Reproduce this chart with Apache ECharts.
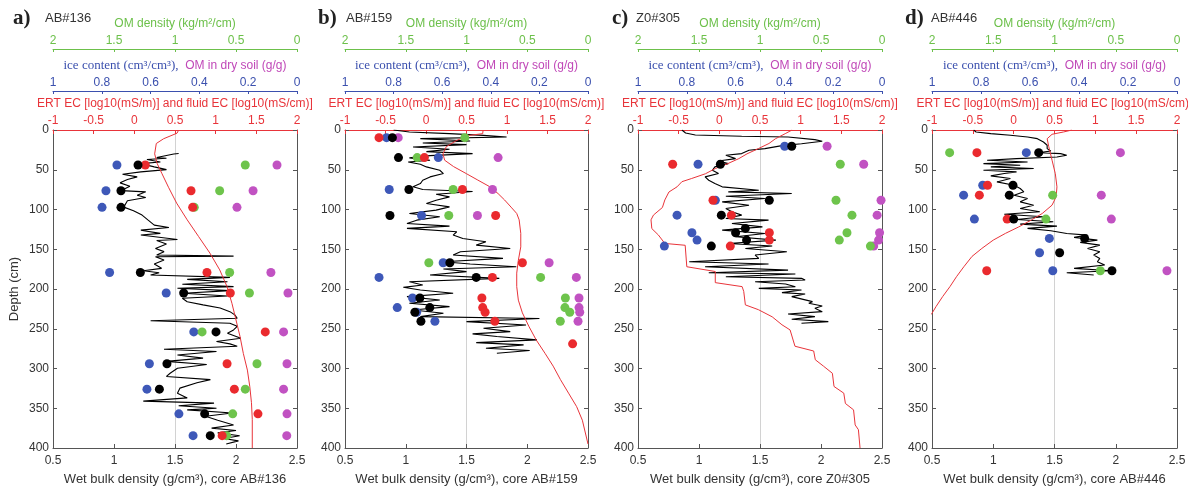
<!DOCTYPE html>
<html><head><meta charset="utf-8">
<script src="https://cdn.jsdelivr.net/npm/echarts@6/dist/echarts.min.js"></script>
<style>html,body{margin:0;padding:0;background:#fff}#c{width:1188px;height:489px}</style>
</head><body><div id="c"></div>
<script>
// ---- axis tick definitions ----
const densTicks = [0.5, 2.5, 0.5];   // min, max, step (wet bulk density)
const ecTicks   = [-1, 2, 0.5];      // ERT / fluid EC
const iceTicks  = [0, 1, 0.2];       // ice content / OM dry soil (reversed)
const omTicks   = [0, 2, 0.5];       // OM density (reversed)
const depthTicks = [0, 400, 50];

const panelLetters = ['a)', 'b)', 'c)', 'd)'];
const coreNames = ['AB#136', 'AB#159', 'Z0#305', 'AB#446'];

// ---- panel a: AB#136 ----  pairs are [value, depth]
const densLineA = [[1.53,29.5],[1.49,30.2],[1.35,34.7],[1.43,35.5],[1.27,37.2],[1.38,40.2],[1.22,42.3],[1.33,46.4],[1.43,49.8],[1.22,52.7],[1.07,55.6],[1.19,59],[1.11,62.3],[1.05,66.5],[1.13,70.7],[1.06,76.2],[1.26,77.8],[1.19,82],[1.26,85],[1.11,89],[1.08,97],[1.16,101.7],[1.23,107],[1.28,113.4],[1.33,119.7],[1.45,122.6],[1.22,126],[1.38,130],[1.22,132],[1.52,137.7],[1.35,139],[1.43,143.5],[1.34,149],[1.41,153],[1.35,157.3],[1.98,158.6],[1.34,159.4],[1.41,163.6],[1.33,168.6],[1.39,174],[1.24,177],[1.37,179.5],[1.30,182.4],[1.95,185.4],[1.60,187.9],[1.93,190.8],[1.56,194],[1.98,197],[1.52,199],[1.95,202],[1.57,205.4],[1.93,208.8],[1.56,211.7],[1.60,216],[1.73,220],[1.87,224],[1.95,228.5],[1.99,232.6],[2.01,236.8],[1.30,240],[1.95,243],[2.01,247],[1.98,251.5],[1.93,255.6],[2.04,262],[1.84,266],[1.95,269],[2.01,272],[1.41,275.7],[1.84,278.7],[1.52,283],[1.73,287],[1.43,291],[1.76,295],[1.52,299.6],[1.46,306],[1.43,310],[1.79,314],[1.68,318],[1.54,324.7],[1.52,331],[1.60,337],[1.24,341],[1.82,343.5],[1.53,346.9],[1.84,350],[1.60,352],[1.97,356],[1.75,360],[1.85,365],[1.98,371],[1.80,375],[2.00,378],[1.85,381],[2.03,384.5],[1.90,388],[2.02,391],[1.92,395]];
const ecLineA = [[0.545,0],[0.525,4],[0.36,11],[0.27,17],[0.25,30],[0.28,42],[0.34,55],[0.42,72],[0.52,92],[0.65,113],[0.79,134],[0.93,155],[1.05,176],[1.14,197],[1.20,218],[1.25,239],[1.30,260],[1.34,281],[1.39,302],[1.42,323],[1.44,343],[1.45,364],[1.45,400]];
const iceA = [[0.738,44],[0.783,76.4],[0.799,97.3],[0.768,179.2],[0.536,205],[0.423,254],[0.605,294],[0.615,326],[0.484,357],[0.426,384.5]];
const omDryA = [[0.082,44],[0.18,76.4],[0.246,97.3],[0.107,179.2],[0.037,205],[0.055,254],[0.041,294],[0.055,326],[0.041,357],[0.042,384.5]];
const omDenA = [[0.424,44],[0.634,76.4],[0.842,97.3],[0.552,179.2],[0.39,205],[0.778,254],[0.328,294],[0.424,326],[0.527,357],[0.576,384.5]];
const fluidA = [[0.135,44],[0.697,76.4],[0.717,97.3],[0.893,179.2],[1.18,205],[1.61,254],[1.14,294],[1.23,326],[1.52,357],[1.08,384.5]];
const densDotA = [[1.197,44],[1.057,76.4],[1.057,97.3],[1.216,179.2],[1.571,205],[1.836,254],[1.434,294],[1.372,326],[1.743,357],[1.789,384.5]];

// ---- panel b: AB#159 ----
const densLineB = [[0.90,0],[1.03,2.5],[1.36,4.6],[1.64,6.7],[1.83,8.8],[1.12,10.9],[1.53,13.8],[1.14,16.3],[1.50,18.4],[1.06,21.3],[1.36,24.3],[1.17,27.2],[1.55,29.7],[1.20,32.2],[1.03,35.1],[1.20,38.1],[1.02,40.2],[1.12,43.1],[1.17,46.4],[1.28,50.6],[1.31,54.8],[1.20,59],[1.14,63.2],[1.12,67.4],[1.06,71.5],[1.14,74.9],[1.55,77.4],[1.25,80.8],[1.36,84.1],[1.25,88.3],[1.17,92.5],[1.36,96.7],[1.25,100.8],[1.03,105],[1.28,109.2],[1.09,113.4],[1.01,117.6],[1.36,120.9],[1.01,123.8],[1.42,128],[1.39,132.2],[1.47,136.4],[1.66,140.6],[1.58,144.8],[1.86,149],[1.45,153.1],[1.39,157.3],[1.80,161.5],[1.31,165.7],[1.53,168.6],[1.91,172],[1.31,174.9],[1.50,178.2],[1.20,182.4],[1.77,186.6],[1.03,190.8],[1.14,195],[0.98,197.9],[1.12,201.3],[1.39,205.4],[1.01,209.6],[1.28,213.8],[1.03,218],[1.36,222.2],[1.06,226.4],[1.31,230.5],[1.12,234.7],[2.10,237.2],[1.50,241],[1.99,245.2],[1.64,249.4],[1.86,253.6],[1.55,256.5],[1.75,259.8],[2.08,264],[1.58,267.4],[1.97,270.3],[1.66,274.5],[2.02,277.4],[1.75,280.8]];
const ecLineB = [[0.705,0],[0.70,4.6],[0.54,6.7],[0.38,13],[0.25,21],[0.21,30],[0.23,38],[0.34,46],[0.50,55],[0.64,63],[0.79,71.5],[0.89,80],[0.97,88],[1.05,97],[1.12,105],[1.15,113],[1.17,130],[1.17,147],[1.14,164],[1.12,180],[1.12,197],[1.14,214],[1.19,230],[1.27,247],[1.36,264],[1.47,281],[1.57,297],[1.66,314],[1.76,331],[1.86,348],[1.93,365],[2.0,395]];
const iceB = [[0.829,9.6],[0.616,34.7],[0.818,74.9],[0.685,107.5],[0.596,167],[0.86,185.4],[0.722,211.3],[0.785,223.4],[0.705,229.3],[0.63,240.6]];
const omDryB = [[0.781,9.6],[0.37,34.7],[0.393,74.9],[0.455,107.5],[0.16,167],[0.048,185.4],[0.037,211.3],[0.037,223.4],[0.034,229.3],[0.041,240.6]];
const omDenB = [[1.014,9.6],[1.406,34.7],[1.11,74.9],[1.146,107.5],[1.31,167],[0.39,185.4],[0.186,211.3],[0.19,223.4],[0.15,229.3],[0.228,240.6]];
const fluidB = [[-0.58,9.6],[-0.02,34.7],[0.45,74.9],[0.86,107.5],[1.19,167],[0.82,185.4],[0.69,211.3],[0.70,223.4],[0.73,229.3],[0.85,240.6],[1.81,269]];
const densDotB = [[0.89,9.6],[0.94,34.7],[1.026,74.9],[0.87,107.5],[1.363,167],[1.58,185.4],[1.116,211.3],[1.198,223.4],[1.075,229.3],[1.125,240.6]];

// ---- panel c: Z0#305 ----
const densLineC = [[0.86,0],[0.89,3.8],[0.97,6.3],[1.35,7.9],[1.73,8.8],[1.95,12.1],[2.01,14.2],[1.84,17.2],[1.68,19.7],[1.54,23.4],[1.41,25.5],[1.35,29.7],[1.22,31.8],[1.30,36],[1.16,38.9],[1.24,42.3],[1.13,46.4],[1.11,50.6],[1.16,54.8],[1.05,59],[1.08,63.2],[1.13,67.4],[1.19,71.5],[1.49,75.7],[1.24,77.8],[1.76,79.9],[1.22,83.3],[1.54,86.2],[1.19,90.4],[1.41,94.6],[1.22,98.7],[1.27,102.9],[1.35,107.1],[1.22,111.3],[1.57,113.4],[1.27,117.6],[1.52,121.8],[1.19,126],[1.54,130.1],[1.30,134.3],[1.63,138.5],[1.24,142.7],[1.60,146],[1.38,149],[1.72,153.1],[1.46,157.3],[1.49,161.5],[0.92,165.7],[1.57,168.6],[1.05,172],[1.73,176.2],[1.08,179.5],[1.79,181.2],[1.22,184.5],[1.84,186.6],[1.87,188.7],[1.46,190.8],[1.71,193.7],[1.79,197.1],[1.49,199.2],[1.84,201.3],[1.68,204.6],[1.87,206.3],[1.76,209.6],[1.93,215.9],[1.90,218],[2.01,221.3],[1.95,224.3],[2.01,228.5],[1.73,231.4],[1.95,234.7],[1.76,238.1],[2.06,241],[1.84,243.1]];
const ecLineC = [[0.894,0],[0.81,4.6],[0.69,11],[0.61,17],[0.48,23.4],[0.34,30],[0.24,36],[0.11,42],[-0.05,48.5],[-0.17,55],[-0.34,61],[-0.46,65],[-0.52,71.5],[-0.62,78],[-0.67,88],[-0.70,97.5],[-0.81,107],[-0.84,113],[-0.83,124],[-0.75,132],[-0.67,142.7],[-0.42,145],[-0.40,172],[-0.05,178],[-0.05,192],[0.28,197],[0.30,203],[0.32,220],[0.48,226],[0.65,235],[0.77,245],[0.87,251.5],[0.93,272],[1.16,278],[1.18,289],[1.28,297],[1.39,306],[1.41,322.6],[1.53,331],[1.55,344],[1.65,352],[1.67,371],[1.71,377],[1.73,400]];
const iceC = [[0.399,20.5],[0.754,43.1],[0.683,88.3],[0.84,107.1],[0.779,129.3],[0.758,138.5],[0.892,146]];
const omDryC = [[0.225,20.5],[0.075,43.1],[0.004,88.3],[0.02,107.1],[0.01,129.3],[0.014,138.5],[0.034,146]];
const omDenC = [[0.342,43.1],[0.377,88.3],[0.246,107.1],[0.287,129.3],[0.35,138.5],[0.095,146]];
const fluidC = [[-0.574,43.1],[-0.078,88.3],[0.148,107.1],[0.615,129.3],[0.615,138.5],[0.135,146]];
const densDotC = [[1.76,20.5],[1.175,43.1],[1.576,88.3],[1.183,107.1],[1.38,123.8],[1.30,129.3],[1.39,138.5],[1.101,146]];

// ---- panel d: AB#446 ----
const densLineD = [[0.84,0],[0.86,2.5],[0.98,4.6],[1.14,6.7],[1.28,8.8],[1.36,10.9],[1.41,15.1],[1.44,19.2],[1.44,23.4],[1.47,26.4],[1.38,28.5],[1.55,29.7],[1.60,31.8],[1.52,33.9],[1.19,36],[0.95,38.1],[1.28,40.2],[0.92,42.3],[1.22,44.4],[0.98,46.4],[1.33,48.5],[0.92,50.6],[1.19,52.7],[1.09,54.8],[0.98,57.7],[1.14,61.1],[1.03,65.3],[1.17,69.5],[1.22,73.6],[1.25,77.8],[1.17,82],[1.28,86.2],[1.22,90.4],[1.33,94.6],[1.22,98.7],[1.38,102.9],[1.09,105.9],[1.41,109.2],[1.19,112.6],[1.49,115.5],[1.22,118.4],[1.52,120.9],[1.28,123.8],[1.47,126.8],[1.60,130.1],[1.77,132.2],[1.66,135.1],[1.85,138.5],[1.71,141.4],[1.87,144.8],[1.77,149],[1.87,153.1],[1.82,157.3],[1.87,161.5],[1.85,165.7],[1.91,169.9],[1.66,174],[1.96,177],[1.60,179.5],[1.82,182.4]];
const ecLineD = [[0.714,0],[0.61,2.5],[0.47,5.4],[0.41,11],[0.43,21],[0.47,38],[0.51,55],[0.53,71.5],[0.52,84],[0.47,94.5],[0.35,105],[0.22,113],[0.06,122],[-0.10,130],[-0.25,138.5],[-0.39,149],[-0.51,159],[-0.61,172],[-0.70,184.5],[-0.78,197],[-0.87,209.6],[-0.95,222],[-1.0,230.5],[-1.05,236]];
const iceD = [[0.615,28.5],[0.793,69.5],[0.871,82],[0.827,112.1],[0.521,136.4],[0.561,154.4],[0.507,177]];
const omDryD = [[0.231,28.5],[0.309,82],[0.268,112.1],[0.041,177]];
const omDenD = [[1.856,28.5],[1.015,82],[1.07,112.1],[0.626,177]];
const fluidD = [[-0.45,28.5],[-0.32,69.5],[-0.42,82],[-0.08,112.1],[-0.33,177]];
const densDotD = [[1.371,28.5],[1.161,69.5],[1.131,82],[1.167,112.1],[1.746,136.4],[1.542,154.4],[1.969,177]];

const panelData = [
  {dens: densLineA, ec: ecLineA, ice: iceA, omDry: omDryA, omDen: omDenA, fluid: fluidA, dot: densDotA},
  {dens: densLineB, ec: ecLineB, ice: iceB, omDry: omDryB, omDen: omDenB, fluid: fluidB, dot: densDotB},
  {dens: densLineC, ec: ecLineC, ice: iceC, omDry: omDryC, omDen: omDenC, fluid: fluidC, dot: densDotC},
  {dens: densLineD, ec: ecLineD, ice: iceD, omDry: omDryD, omDen: omDenD, fluid: fluidD, dot: densDotD}
];

// ---- layout / style (not data) ----
const layout = [
  {left: 53, width: 244, lx: 13, cx: 45},
  {left: 345, width: 243, lx: 318, cx: 346},
  {left: 638, width: 244, lx: 612, cx: 636},
  {left: 932, width: 245, lx: 905, cx: 931}
];
const GREEN = '#6cc04a', BLUE = '#3b50ae', PURPLE = '#c048b8', RED = '#e8343a', FRAME = '#555';
const C_BLUE = '#3e58b8', C_PURPLE = '#c152c2', C_GREEN = '#6ec44c', C_RED = '#ea2a2e';

const grids = [], xAxes = [], yAxes = [], series = [], graphics = [];
layout.forEach((L, i) => {
  grids.push({left: L.left, width: L.width, top: 130, height: 318, outerBoundsMode: 'none', containLabel: false});
  const base = {gridIndex: i, type: 'value', splitLine: {show: false}};
  // 0: bottom density
  xAxes.push(Object.assign({}, base, {
    position: 'bottom', min: densTicks[0], max: densTicks[1], interval: densTicks[2],
    axisLine: {onZero: false, lineStyle: {color: FRAME, width: 1}},
    axisTick: {inside: true, length: 4, lineStyle: {color: FRAME}},
    axisLabel: {color: '#333', fontSize: 12, margin: 7},
    name: 'Wet bulk density (g/cm³), core ' + coreNames[i], nameLocation: 'middle', nameGap: 25,
    nameTextStyle: {fontSize: 13, color: '#333'}
  }));
  // 1: red EC top
  xAxes.push(Object.assign({}, base, {
    position: 'top', offset: 0, min: ecTicks[0], max: ecTicks[1], interval: ecTicks[2],
    axisLine: {onZero: false, lineStyle: {color: RED, width: 1}},
    axisTick: {inside: true, length: 4, lineStyle: {color: RED}},
    axisLabel: {color: RED, fontSize: 12, margin: 3},
    name: 'ERT EC [log10(mS/m)] and fluid EC [log10(mS/cm)]', nameLocation: 'middle', nameGap: 17,
    nameTextStyle: {fontSize: 12, color: RED}
  }));
  // 2: blue ice / OM dry
  xAxes.push(Object.assign({}, base, {
    position: 'top', offset: 39, min: iceTicks[0], max: iceTicks[1], interval: iceTicks[2], inverse: true,
    axisLine: {onZero: false, lineStyle: {color: BLUE, width: 1}},
    axisTick: {inside: true, length: 3, lineStyle: {color: BLUE}},
    axisLabel: {color: BLUE, fontSize: 12, margin: 2},
    name: '{i|ice content (cm³/cm³),}  {o|OM in dry soil (g/g)}', nameLocation: 'middle', nameGap: 16,
    nameTextStyle: {rich: {
      i: {fontFamily: '"Liberation Serif", serif', fontSize: 13, color: BLUE},
      o: {fontFamily: '"Liberation Sans", sans-serif', fontSize: 12, color: PURPLE}
    }}
  }));
  // 3: green OM density
  xAxes.push(Object.assign({}, base, {
    position: 'top', offset: 81, min: omTicks[0], max: omTicks[1], interval: omTicks[2], inverse: true,
    axisLine: {onZero: false, lineStyle: {color: GREEN, width: 1}},
    axisTick: {inside: true, length: 3, lineStyle: {color: GREEN}},
    axisLabel: {color: GREEN, fontSize: 12, margin: 2},
    name: 'OM density (kg/m²/cm)', nameLocation: 'middle', nameGap: 16,
    nameTextStyle: {fontSize: 12, color: GREEN}
  }));
  // 4: helper axis for the central light grey guide
  xAxes.push(Object.assign({}, base, {
    position: 'bottom', min: 0, max: 2, interval: 1,
    axisLine: {show: false, onZero: false}, axisTick: {show: false}, axisLabel: {show: false},
    splitLine: {show: true, lineStyle: {color: '#d2d2d2', width: 1}}
  }));
  yAxes.push({
    gridIndex: i, type: 'value', inverse: true, position: 'left',
    min: depthTicks[0], max: depthTicks[1], interval: depthTicks[2],
    axisLine: {onZero: false, lineStyle: {color: FRAME, width: 1}},
    axisTick: {inside: true, length: 4, lineStyle: {color: FRAME}},
    axisLabel: {color: '#333', fontSize: 12, margin: 4},
    splitLine: {show: false},
    name: i === 0 ? 'Depth (cm)' : '', nameLocation: 'middle', nameGap: 32,
    nameTextStyle: {fontSize: 13, color: '#333'}
  });
  yAxes.push({
    gridIndex: i, type: 'value', inverse: true, position: 'right',
    min: depthTicks[0], max: depthTicks[1], interval: depthTicks[2],
    axisLine: {onZero: false, lineStyle: {color: FRAME, width: 1}},
    axisTick: {inside: true, length: 4, lineStyle: {color: FRAME}},
    axisLabel: {show: false}, splitLine: {show: false}
  });
  const D = panelData[i];
  const xb = i * 5, yb = i * 2;
  series.push({type: 'line', xAxisIndex: xb, yAxisIndex: yb, data: D.dens, showSymbol: false, symbol: 'none',
    lineStyle: {color: '#000', width: 1.1}, z: 3, silent: true});
  series.push({type: 'line', xAxisIndex: xb + 1, yAxisIndex: yb, data: D.ec, showSymbol: false, symbol: 'none',
    lineStyle: {color: RED, width: 1}, z: 3, silent: true});
  const sc = (ax, data, color) => ({type: 'scatter', xAxisIndex: xb + ax, yAxisIndex: yb, data: data,
    symbolSize: 9, itemStyle: {color: color, opacity: 1}, z: 4, silent: true});
  series.push(sc(2, D.ice, C_BLUE));
  series.push(sc(2, D.omDry, C_PURPLE));
  series.push(sc(3, D.omDen, C_GREEN));
  series.push(sc(1, D.fluid, C_RED));
  series.push(sc(0, D.dot, '#000'));
  graphics.push({type: 'text', x: L.lx, y: 19, style: {text: panelLetters[i], font: 'bold 21px "Liberation Serif"', fill: '#222', verticalAlign: 'middle'}});
  graphics.push({type: 'text', x: L.cx, y: 18, style: {text: coreNames[i], font: '13px "Liberation Sans"', fill: '#333', verticalAlign: 'middle'}});
});

const chart = echarts.init(document.getElementById('c'), null, {renderer: 'canvas'});
chart.setOption({
  animation: false,
  backgroundColor: '#fff',
  textStyle: {fontFamily: '"Liberation Sans", Arial, sans-serif'},
  grid: grids, xAxis: xAxes, yAxis: yAxes, series: series, graphic: graphics
});
</script></body></html>
